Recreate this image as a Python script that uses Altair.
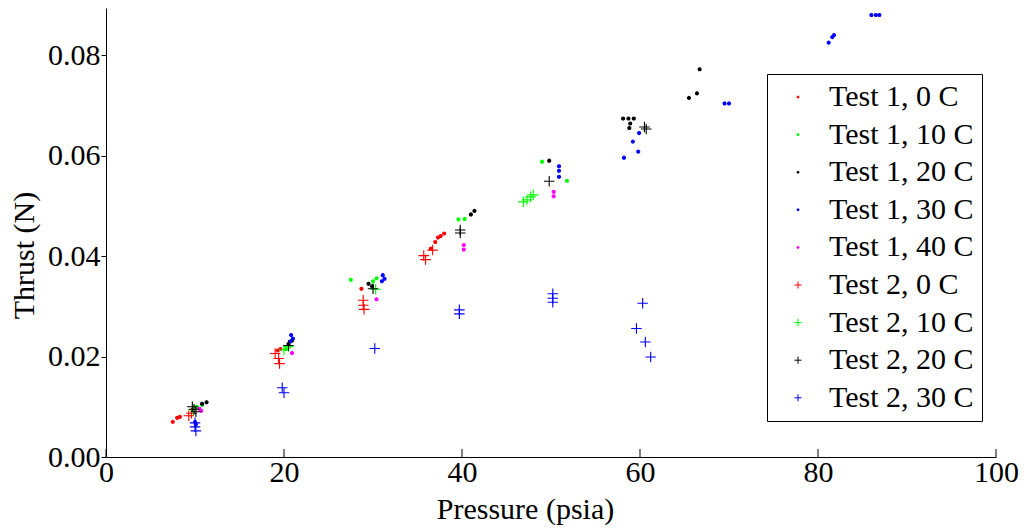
import altair as alt
import pandas as pd

# ---- data ----
series_names = ["Test 1, 0 C", "Test 1, 10 C", "Test 1, 20 C", "Test 1, 30 C", "Test 1, 40 C",
                "Test 2, 0 C", "Test 2, 10 C", "Test 2, 20 C", "Test 2, 30 C"]

T1_0C_x = [7.5, 8.0, 8.3, 19.3, 19.6, 28.7, 36.5, 37.0, 37.3, 37.6, 38.0]
T1_0C_y = [0.0070, 0.0078, 0.0080, 0.0212, 0.0215, 0.0335, 0.0415, 0.0428, 0.0437, 0.0440, 0.0445]

T1_10C_x = [10.2, 10.8, 20.2, 20.6, 27.5, 30.0, 30.4, 39.6, 40.3, 49.0, 51.8]
T1_10C_y = [0.0100, 0.0104, 0.0215, 0.0220, 0.0353, 0.0350, 0.0356, 0.0473, 0.0474, 0.0588, 0.0550]

T1_20C_x = [10.8, 11.3, 20.5, 20.9, 29.5, 29.9, 41.0, 41.4, 49.8, 58.1, 58.7, 59.3, 58.9, 58.8, 65.5, 66.4, 66.7]
T1_20C_y = [0.0106, 0.0109, 0.0225, 0.0232, 0.0345, 0.0340, 0.0483, 0.0490, 0.0590, 0.0674, 0.0674, 0.0674,
            0.0664, 0.0655, 0.0715, 0.0724, 0.0772]

T1_30C_x = [10.0, 10.1, 20.7, 20.8, 21.0, 31.0, 31.1, 31.3, 50.9, 50.9, 50.9, 58.2, 59.2, 59.8, 59.9,
            69.5, 70.0, 81.2, 81.6, 81.8, 86.0, 86.5, 86.9]
T1_30C_y = [0.0070, 0.0065, 0.0230, 0.0243, 0.0236, 0.0350, 0.0362, 0.0355, 0.0579, 0.0570, 0.0558,
            0.0596, 0.0628, 0.0608, 0.0645, 0.0704, 0.0704, 0.0825, 0.0836, 0.0840, 0.0880, 0.0880, 0.0880]

T1_40C_x = [10.5, 10.7, 20.9, 30.4, 40.2, 40.2, 50.3, 50.3]
T1_40C_y = [0.0096, 0.0092, 0.0207, 0.0314, 0.0422, 0.0413, 0.0528, 0.0519]

T2_0C_x = [9.3, 9.6, 19.0, 19.4, 19.5, 28.9, 28.9, 29.0, 35.7, 35.9, 36.7]
T2_0C_y = [0.0082, 0.0087, 0.0206, 0.0196, 0.0186, 0.0312, 0.0302, 0.0294, 0.0401, 0.0393, 0.0412]

T2_10C_x = [9.8, 20.0, 20.5, 30.3, 46.9, 47.3, 47.7, 48.0]
T2_10C_y = [0.0094, 0.0213, 0.0220, 0.0334, 0.0508, 0.0512, 0.0518, 0.0522]

T2_20C_x = [9.7, 9.9, 10.1, 20.5, 30.0, 39.8, 39.8, 49.8, 60.5, 60.7]
T2_20C_y = [0.0100, 0.0095, 0.0090, 0.0222, 0.0335, 0.0452, 0.0446, 0.0549, 0.0657, 0.0653]

T2_30C_x = [10.0, 10.0, 10.1, 19.8, 20.0, 30.2, 39.7, 39.7, 50.2, 50.2, 50.2, 59.6, 60.3, 60.6, 61.2]
T2_30C_y = [0.0068, 0.0060, 0.0052, 0.0138, 0.0128, 0.0216, 0.0293, 0.0285, 0.0325, 0.0316, 0.0308,
            0.0256, 0.0306, 0.0229, 0.0199]

x_ticks = [0, 20, 40, 60, 80, 100]
y_ticks = [0.0, 0.02, 0.04, 0.06, 0.08]

# ---- styling ----
colors = ["#ff0000", "#00ff00", "#000000", "#0000ff", "#ff00ff",
          "#ff0000", "#00ff00", "#000000", "#0000ff"]
PLUS = "M-1,0H1M0,-1V1"
DOT = "M-0.29,0A0.29,0.29,0,1,0,0.29,0A0.29,0.29,0,1,0,-0.29,0Z"
shapes = [DOT] * 5 + [PLUS] * 4

xs = [T1_0C_x, T1_10C_x, T1_20C_x, T1_30C_x, T1_40C_x, T2_0C_x, T2_10C_x, T2_20C_x, T2_30C_x]
ys = [T1_0C_y, T1_10C_y, T1_20C_y, T1_30C_y, T1_40C_y, T2_0C_y, T2_10C_y, T2_20C_y, T2_30C_y]

rows = []
for name, xv, yv in zip(series_names, xs, ys):
    for a, b in zip(xv, yv):
        rows.append({"series": name, "pressure": a, "thrust": b})
df = pd.DataFrame(rows)
ticks_df = pd.DataFrame({"tick": x_ticks})

FONT = "Liberation Serif"
FS = 30
xscale = alt.Scale(domain=[0, 100], nice=False, zero=False)
yscale = alt.Scale(domain=[0, 0.0894], nice=False, zero=False)

points = alt.Chart(df).mark_point(filled=True, size=110, strokeWidth=1.1, opacity=1).encode(
    x=alt.X("pressure:Q", scale=xscale,
            axis=alt.Axis(values=x_ticks, format="d", ticks=False, grid=False,
                          labelPadding=0, labelFlush=False, title="Pressure (psia)",
                          titleX=419, titleY=52, titleAlign="center", titleBaseline="middle")),
    y=alt.Y("thrust:Q", scale=yscale,
            axis=alt.Axis(values=y_ticks, format=".2f", tickSize=5, grid=False, labelPadding=1,
                          labelFlush=False,
                          title="Thrust (N)", titleAngle=-90, titleX=-73, titleY=247,
                          titleAlign="center", titleBaseline="alphabetic")),
    fill=alt.Fill("series:N", scale=alt.Scale(domain=series_names, range=colors), title=None),
    stroke=alt.Stroke("series:N", scale=alt.Scale(domain=series_names, range=colors), title=None),
    shape=alt.Shape("series:N", scale=alt.Scale(domain=series_names, range=shapes), title=None),
)

inner_ticks = alt.Chart(ticks_df).mark_rule(color="black", strokeWidth=1).encode(
    x=alt.X("tick:Q", scale=xscale, axis=None),
    y=alt.value(441),
    y2=alt.value(449),
)

chart = alt.layer(points, inner_ticks).resolve_axis(x="independent").properties(
    width=890, height=449,
    autosize=alt.AutoSizeParams(type="none"),
    padding={"left": 98, "top": 0, "right": 24, "bottom": 72},
).configure_view(stroke=None).configure_axis(
    labelFont=FONT, labelFontSize=FS, labelColor="black",
    titleFont=FONT, titleFontSize=FS, titleFontWeight="normal", titleColor="black",
    domainColor="black", tickColor="black", domainWidth=1,
).configure_legend(
    orient="none", legendX=661, legendY=66,
    strokeColor="black", fillColor="white", padding=8, rowPadding=7.6,
    labelFont=FONT, labelFontSize=FS, labelColor="black",
    symbolOffset=8, labelOffset=16, labelLimit=400, symbolSize=50, symbolStrokeWidth=1,
)

chart.save("out.html", embed_options={"renderer": "svg", "actions": False})
